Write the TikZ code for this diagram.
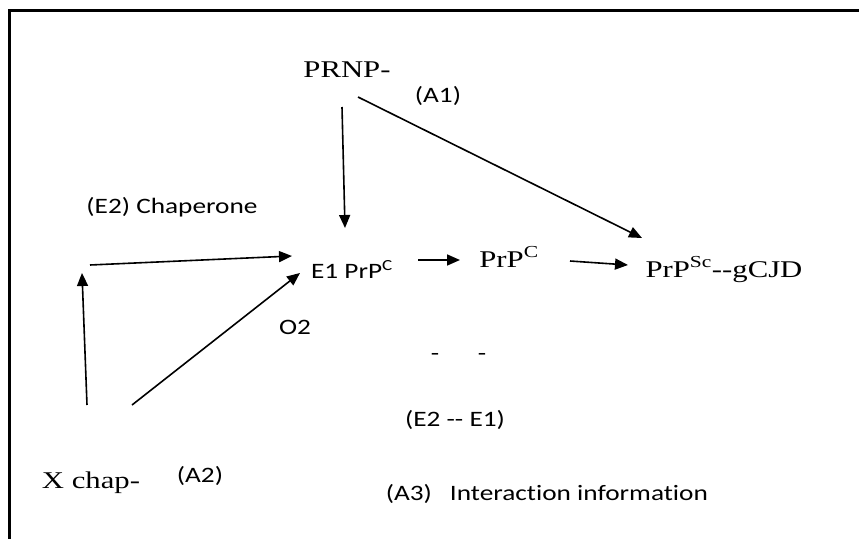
\documentclass[tikz,border=0pt]{standalone}
\usepackage{fontspec}
\setmainfont{Liberation Serif}[FakeStretch=1.28]
\newfontfamily\calib{Carlito}[FakeStretch=1.24, Ligatures=NoCommon]
\usetikzlibrary{arrows.meta}
\begin{document}
\begin{tikzpicture}[x=1pt, y=-1pt, >={Triangle[length=13pt,width=11pt]}, line width=1.6pt,
    main/.style = {inner sep=0pt, anchor=base, font=\fontsize{24}{28}\selectfont},
    lab/.style = {inner sep=0pt, anchor=base, font=\calib\fontsize{22}{26}\selectfont}]
    \useasboundingbox (0,0) rectangle (859,538);
    \draw[line width=3pt] (870,10) -- (9,10) -- (9,545);
    \node[main] (prnp) at (347,77) {PRNP-};
    \node[lab] (a1) at (438,102) {(A1)};
    \node[lab] (chap) at (172,213) {(E2) Chaperone};
    \node[lab] (e1) at (352,278) {E1 PrP\textsuperscript{C}};
    \node[main] (prpc) at (509,267) {PrP\textsuperscript{C}};
    \node[main] (prpsc) at (724,277) {PrP\textsuperscript{Sc}-{}-gCJD};
    \node[lab] (o2) at (295,334) {O2};
    \node[lab] (dl) at (435,360) {-};
    \node[lab] (dr) at (482,360) {-};
    \node[lab] (e2e1) at (455,426) {(E2 -{}- E1)};
    \node[main] (xchap) at (91,488) {X chap-};
    \node[lab] (a2) at (200,482) {(A2)};
    \node[lab, anchor=base west] (a3) at (385,500) {(A3)\hspace{18pt}Interaction information};
    \coordinate (c1) at (90,265);
    \coordinate (c2) at (82,273);
    \draw[->] ([shift={(-5,30)}]prnp.base) -- ([shift={(-7,-50)}]e1.base);
    \draw[->] ([shift={(11,20)}]prnp.base) -- ([shift={(-82,-39)}]prpsc.base);
    \draw[->] (c1) -- ([shift={(-60,-22)}]e1.base);
    \draw[->] ([shift={(-4,-83)}]xchap.base) -- (c2);
    \draw[->] ([shift={(41,-83)}]xchap.base) -- ([shift={(-52,-5)}]e1.base);
    \draw[->] ([shift={(66,-18)}]e1.base) -- ([shift={(-49,-7)}]prpc.base);
    \draw[->] ([shift={(61,-6)}]prpc.base) -- ([shift={(-96,-12)}]prpsc.base);
\end{tikzpicture}
\end{document}
